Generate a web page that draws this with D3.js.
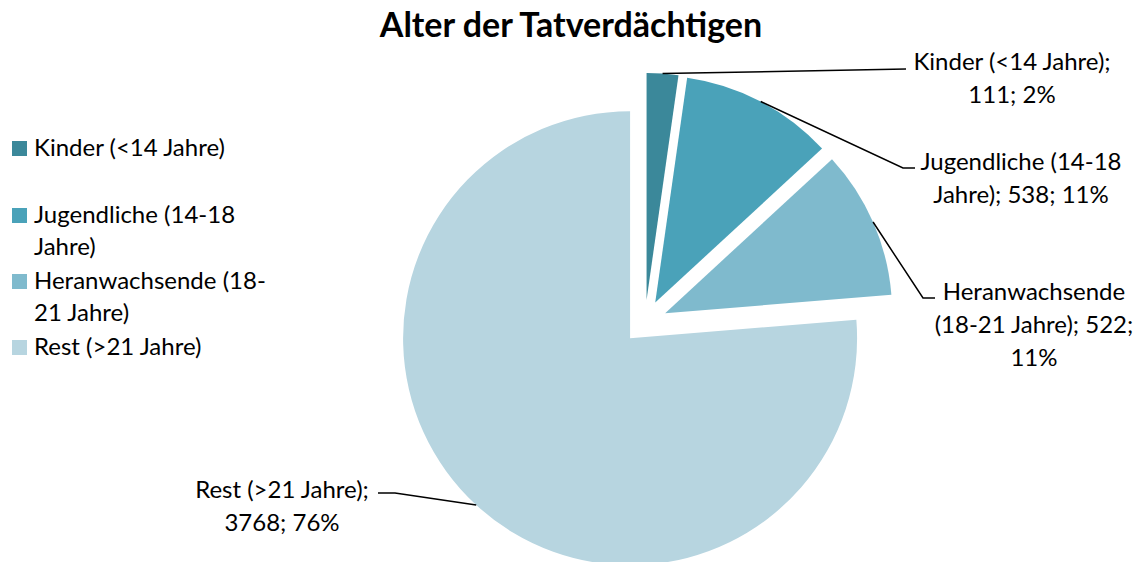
<!DOCTYPE html>
<html>
<head>
<meta charset="utf-8">
<script src="https://cdn.jsdelivr.net/npm/d3@7"></script>
<style>
  body { margin: 0; background: #fff; }
  text { font-family: Lato, "Open Sans", sans-serif; fill: #000; }
</style>
</head>
<body>
<div id="chart"></div>
<script>
// data
var categories = ["Kinder (<14 Jahre)", "Jugendliche (14-18 Jahre)", "Heranwachsende (18-21 Jahre)", "Rest (>21 Jahre)"];
var counts = [111, 538, 522, 3768];
var percents = [2, 11, 11, 76];
var legendLines = [["Kinder (<14 Jahre)"], ["Jugendliche (14-18", "Jahre)"], ["Heranwachsende (18-", "21 Jahre)"], ["Rest (>21 Jahre)"]];
var labelLines = [
    ["Kinder (<14 Jahre);", "111; 2%"],
    ["Jugendliche (14-18", "Jahre); 538; 11%"],
    ["Heranwachsende", "(18-21 Jahre); 522;", "11%"],
    ["Rest (>21 Jahre);", "3768; 76%"]
];
var colors = ["#3b889a", "#4aa2b9", "#7fbacd", "#b7d5e0"];

var svgWidth = 1139;
var svgHeight = 562;
var cx = 645, cy = 322;
var radius = 227;
var explode = 22;

var svg = d3.select("#chart")
    .append("svg")
    .attr("width", svgWidth)
    .attr("height", svgHeight);

// title
svg.append("text")
    .attr("x", 571)
    .attr("y", 37)
    .attr("text-anchor", "middle")
    .style("font-size", "34px")
    .style("font-weight", "bold")
    .text("Alter der Tatverdächtigen");

var pie = d3.pie().sort(null).value(d => d);
var arcs = pie(counts);
var arc = d3.arc().innerRadius(0).outerRadius(radius);

function offset(d, r) {
    var a = (d.startAngle + d.endAngle) / 2;
    return [r * Math.sin(a), -r * Math.cos(a)];
}

var pieG = svg.append("g")
    .attr("transform", `translate(${cx}, ${cy})`);

pieG.selectAll("path")
    .data(arcs)
    .enter()
    .append("path")
    .attr("d", arc)
    .attr("fill", (d, i) => colors[i])
    .attr("transform", d => {
        var o = offset(d, explode);
        return `translate(${o[0]}, ${o[1]})`;
    });

// leader lines: start on outer edge of each slice at its middle angle
var labelPos = [
    { x: 1012, y: 70, bend: [906, 69], end: [906, 69] },
    { x: 1021, y: 170, bend: [903, 168], end: [915, 168] },
    { x: 1034, y: 300, bend: [923, 298], end: [935, 298] },
    { x: 282, y: 498, bend: [395, 493], end: [378, 493] }
];

var line = d3.line();
arcs.forEach(function (d, i) {
    var o = offset(d, explode + radius);
    var start = [cx + o[0], cy + o[1]];
    var p = labelPos[i];
    svg.append("path")
        .attr("d", line([start, p.bend, p.end]))
        .attr("fill", "none")
        .attr("stroke", "#000")
        .attr("stroke-width", 1.5);

    var t = svg.append("text")
        .attr("text-anchor", "middle")
        .style("font-size", "24px");
    labelLines[i].forEach(function (s, j) {
        t.append("tspan")
            .attr("x", p.x)
            .attr("y", p.y + j * 33)
            .text(s);
    });
});

// legend
var legendY = [148, 215, 281, 347];
var legend = svg.append("g");
categories.forEach(function (c, i) {
    legend.append("rect")
        .attr("x", 12)
        .attr("y", legendY[i] - 7)
        .attr("width", 15)
        .attr("height", 15)
        .attr("fill", colors[i]);
    var t = legend.append("text")
        .style("font-size", "24px");
    legendLines[i].forEach(function (s, j) {
        t.append("tspan")
            .attr("x", 34)
            .attr("y", legendY[i] + 8 + j * 32)
            .text(s);
    });
});
</script>
</body>
</html>
